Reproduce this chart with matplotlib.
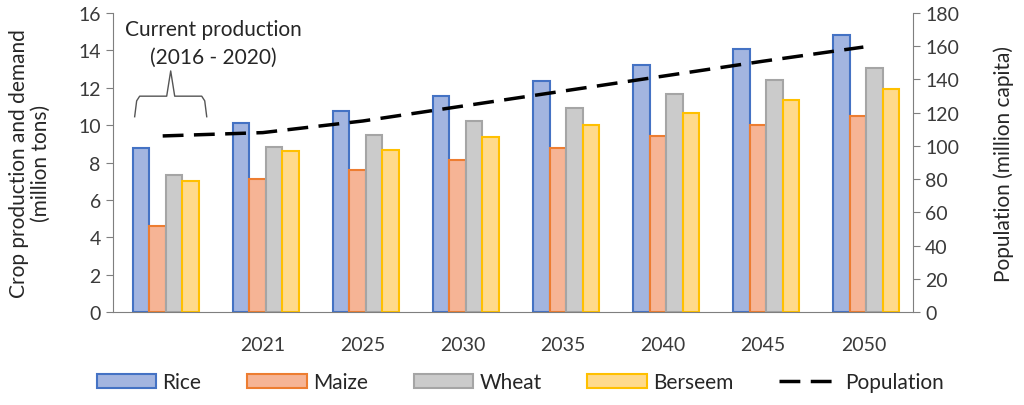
import matplotlib.pyplot as plt
import numpy as np
from matplotlib.lines import Line2D
from matplotlib.patches import Patch

plt.rcParams['font.family'] = ['Lato', 'DejaVu Sans']

# Data
years = ['', '2021', '2025', '2030', '2035', '2040', '2045', '2050']
rice = [8.75, 10.1, 10.75, 11.55, 12.35, 13.2, 14.05, 14.8]
maize = [4.6, 7.1, 7.6, 8.15, 8.75, 9.4, 10.0, 10.5]
wheat = [7.35, 8.85, 9.45, 10.2, 10.9, 11.65, 12.4, 13.05]
berseem = [7.0, 8.6, 8.65, 9.35, 10.0, 10.65, 11.35, 11.95]
population = [106, 108, 115, 124, 133, 142, 151, 159.5]

crops = [('Rice', rice, '#a3b5e0', '#4472c4'),
         ('Maize', maize, '#f6b495', '#ed7d31'),
         ('Wheat', wheat, '#cbcbcb', '#a5a5a5'),
         ('Berseem', berseem, '#ffda8c', '#ffc000')]

fig = plt.figure(figsize=(10.24, 4.06), dpi=100)
ax = fig.add_axes([0.110, 0.229, 0.782, 0.7365])
ax2 = ax.twinx()

x = np.arange(len(years))
w = 0.165
for i, (name, vals, face, edge) in enumerate(crops):
    ax.bar(x + (i - 1.5) * w + 0.03, vals, w, color=face, edgecolor=edge,
           linewidth=1.5, zorder=2)

ax2.plot(x, population, color='black', linewidth=2.5, dashes=(6, 3), zorder=3)

ax.set_xlim(-0.5, 7.5)
ax.set_ylim(0, 16)
ax.set_yticks(range(0, 17, 2))
ax2.set_ylim(0, 180)
ax2.set_yticks(range(0, 181, 20))
ax.set_xticks(x)
ax.set_xticklabels(years)

grey = '#7f7f7f'
txt = '#3a3a3a'
for a in (ax, ax2):
    a.spines['top'].set_visible(False)
    for s in ('left', 'right', 'bottom'):
        a.spines[s].set_color(grey)
    a.tick_params(labelsize=14, colors=txt, length=5)
    a.tick_params(axis='y', color=grey)
ax.tick_params(axis='x', length=0, pad=17)
ax2.spines['left'].set_visible(False)
ax.spines['right'].set_visible(False)
ax2.spines['bottom'].set_visible(False)

ax.set_ylabel('Crop production and demand\n(million tons)', fontsize=15,
              color='#262626', linespacing=1.15)
ax.yaxis.set_label_coords(-0.077, 0.5)
ax2.set_ylabel('Population (million capita)', fontsize=15, color='#262626')
ax2.yaxis.set_label_coords(1.100, 0.5)

# bracket over the current production group
bx = [-0.28, -0.26, -0.23, 0.04, 0.08, 0.12, 0.39, 0.42, 0.44]
by = [10.45, 11.3, 11.55, 11.55, 12.9, 11.55, 11.55, 11.3, 10.45]
ax.plot(bx, by, color='#555555', linewidth=1.0, zorder=4, clip_on=False)
ax.text(0.51, 15.15, 'Current production', ha='center', va='center',
        fontsize=15, color='#262626')
ax.text(0.51, 13.65, '(2016 - 2020)', ha='center', va='center',
        fontsize=15, color='#262626')

handles = [Patch(facecolor=f, edgecolor=e, linewidth=1.5, label=n)
           for n, _, f, e in crops]
handles.append(Line2D([], [], color='black', linewidth=2.5, dashes=(6, 3),
                      label='Population'))
fig.legend(handles=handles, loc='lower center', bbox_to_anchor=(0.508, -0.015),
           ncol=5, frameon=False, fontsize=15, handlelength=2.85,
           handleheight=0.7, handletextpad=0.3, columnspacing=2.2,
           labelcolor='#262626')

fig.savefig('out.png', dpi=100)
